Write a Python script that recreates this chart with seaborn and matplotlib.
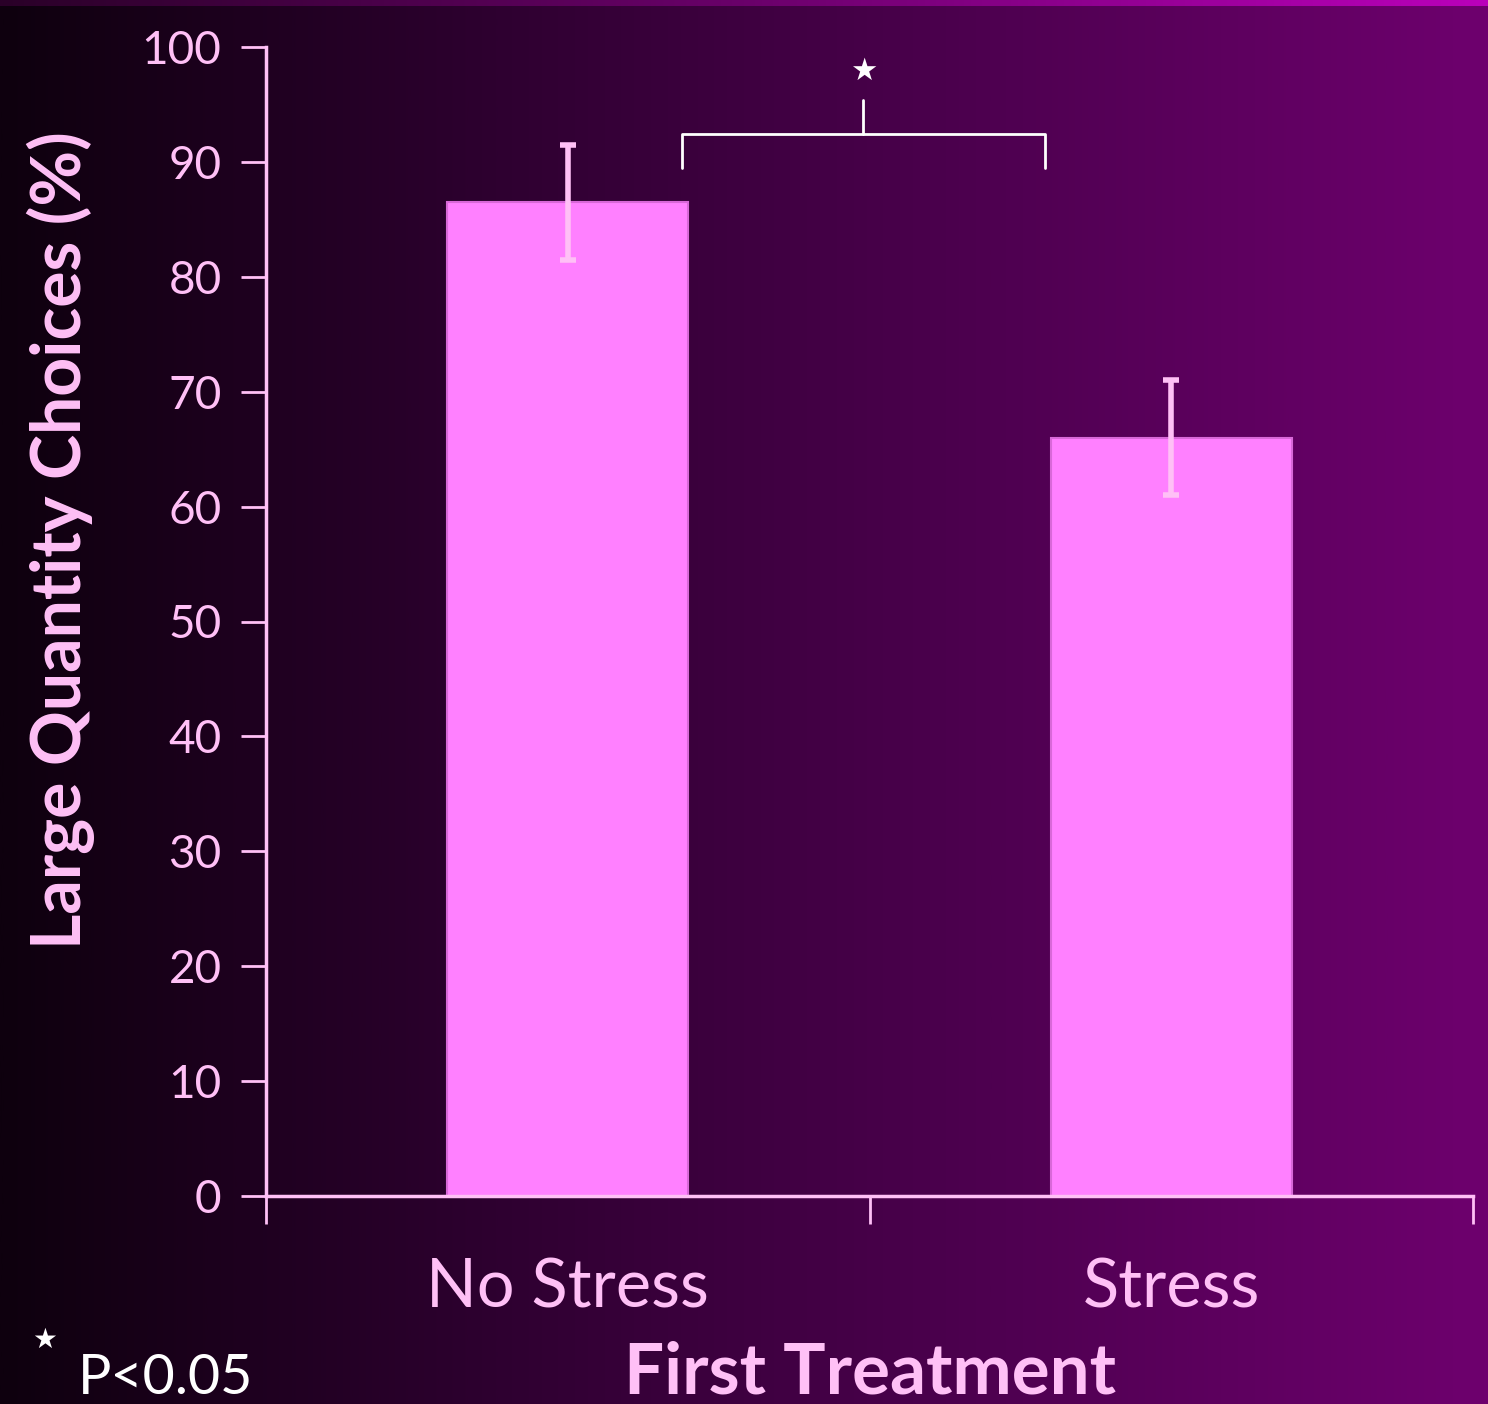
import numpy as np
import pandas as pd
import matplotlib
matplotlib.use("Agg")
import matplotlib.pyplot as plt
import seaborn as sns
from matplotlib.colors import LinearSegmentedColormap

# ---- data ----
categories = ["No Stress", "Stress"]
values = [86.5, 66.0]
errors = [5.0, 5.0]
y_ticks = [0, 10, 20, 30, 40, 50, 60, 70, 80, 90, 100]
x_label = "First Treatment"
y_label = "Large Quantity Choices (%)"
sig_note = "P<0.05"

df = pd.DataFrame({"treatment": categories, "value": values})

sns.set_theme(style="white")
plt.rcParams['font.family'] = ['Lato', 'DejaVu Sans']

W, H = 1488, 1404
fig = plt.figure(figsize=(W / 100, H / 100), dpi=100)

# background gradient
bg = fig.add_axes([0, 0, 1, 1], zorder=0)
cmap = LinearSegmentedColormap.from_list("bg", ["#0e000e", "#2e0030", "#4e0050", "#6e006e"])
grad = np.linspace(0, 1, 512)[None, :]
bg.imshow(grad, aspect="auto", cmap=cmap, extent=[0, 1, 0, 1])
strip = LinearSegmentedColormap.from_list("strip", ["#2a0028", "#6a006a", "#bb00bb"])
bg.imshow(grad, aspect="auto", cmap=strip, extent=[0, 1, 1 - 6 / H, 1])
bg.set_xlim(0, 1)
bg.set_ylim(0, 1)
bg.axis("off")

pink = "#ffc0f6"
bar_c = "#ff80ff"

ax = fig.add_axes([266 / W, 208 / H, (1473 - 266) / W, (1196 - 47) / H], zorder=1)
ax.patch.set_alpha(0)

sns.barplot(data=df, x="treatment", y="value", ax=ax, color=bar_c, width=0.4,
            saturation=1, errorbar=None, edgecolor="#d868d8", linewidth=1.5)
ax.errorbar(np.arange(len(values)), values, yerr=errors, fmt="none",
            ecolor=pink, elinewidth=4, capsize=6, capthick=4, zorder=5)

ax.set_xlim(-0.5, 1.5)
ax.set_ylim(0, 100)
ax.set_yticks(y_ticks)
ax.set_xticks([-0.5, 0.5, 1.5], minor=False)
ax.set_xticklabels([])
ax.tick_params(axis="x", which="major", bottom=True, length=20, width=2, color=pink, direction="out")
ax.set_xticks([0, 1], minor=True)
ax.set_xticklabels(categories, minor=True)
ax.tick_params(axis="x", which="minor", bottom=True, length=0, pad=44, labelsize=48, labelcolor=pink)
ax.tick_params(axis="y", left=True, length=18, width=2, color=pink, direction="out",
               labelsize=33, labelcolor=pink, pad=14)

for s in ["top", "right"]:
    ax.spines[s].set_visible(False)
for s in ["left", "bottom"]:
    ax.spines[s].set_color(pink)
    ax.spines[s].set_linewidth(2.5)

ax.set_xlabel("")
ax.set_ylabel(y_label, fontsize=49, fontweight="bold", color=pink)
ax.yaxis.set_label_coords(-0.142, 0.571)

# significance bracket
ax.plot([0.19, 0.19, 0.79, 0.79], [89.5, 92.4, 92.4, 89.5], color="white", lw=2, clip_on=False)
ax.plot([0.49, 0.49], [92.4, 95.4], color="white", lw=2, clip_on=False)
ax.text(0.49, 97.9, "★", ha="center", va="center", color="white", fontsize=22,
        family=["DejaVu Sans"])

fig.text(870 / W, 1 - 1393 / H, x_label, ha="center", va="baseline", fontsize=51,
         fontweight="bold", color=pink)
fig.text(45 / W, 1 - 1340 / H, "★", ha="center", va="center", color="white", fontsize=20,
         family=["DejaVu Sans"])
fig.text(78 / W, 1 - 1378 / H, sig_note, ha="left", va="center", color="white", fontsize=40)

fig.savefig("out.png", dpi=100)
